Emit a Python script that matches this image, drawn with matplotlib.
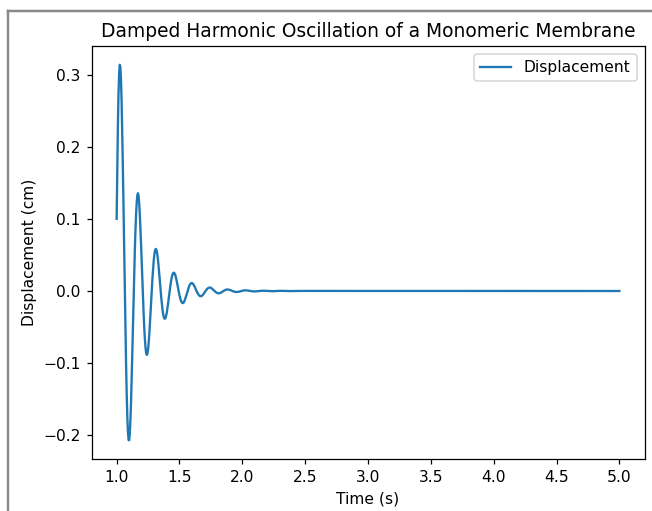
import numpy as np
import matplotlib
matplotlib.use("Agg")
import matplotlib.pyplot as plt
from matplotlib.lines import Line2D

# ---- data ----
time_s = [
    1.000, 1.005, 1.010, 1.015, 1.020, 1.025, 1.030, 1.035, 1.040, 1.045,
    1.050, 1.055, 1.060, 1.065, 1.070, 1.075, 1.080, 1.085, 1.090, 1.095,
    1.100, 1.105, 1.110, 1.115, 1.120, 1.125, 1.130, 1.135, 1.140, 1.145,
    1.150, 1.155, 1.160, 1.165, 1.170, 1.175, 1.180, 1.185, 1.190, 1.195,
    1.200, 1.205, 1.210, 1.215, 1.220, 1.225, 1.230, 1.235, 1.240, 1.245,
    1.250, 1.255, 1.260, 1.265, 1.270, 1.275, 1.280, 1.285, 1.290, 1.295,
    1.300, 1.305, 1.310, 1.315, 1.320, 1.325, 1.330, 1.335, 1.340, 1.345,
    1.350, 1.355, 1.360, 1.365, 1.370, 1.375, 1.380, 1.385, 1.390, 1.395,
    1.400, 1.405, 1.410, 1.415, 1.420, 1.425, 1.430, 1.435, 1.440, 1.445,
    1.450, 1.455, 1.460, 1.465, 1.470, 1.475, 1.480, 1.485, 1.490, 1.495,
    1.500, 1.505, 1.510, 1.515, 1.520, 1.525, 1.530, 1.535, 1.540, 1.545,
    1.550, 1.555, 1.560, 1.565, 1.570, 1.575, 1.580, 1.585, 1.590, 1.595,
    1.600,
    1.61, 1.62, 1.63, 1.64, 1.65, 1.66, 1.67, 1.68, 1.69, 1.70,
    1.71, 1.72, 1.73, 1.74, 1.75, 1.76, 1.77, 1.78, 1.79, 1.80,
    1.81, 1.82, 1.83, 1.84, 1.85, 1.86, 1.87, 1.88, 1.89, 1.90,
    1.91, 1.92, 1.93, 1.94, 1.95, 1.96, 1.97, 1.98, 1.99, 2.00,
    2.01, 2.02, 2.03, 2.04, 2.05, 2.06, 2.07, 2.08, 2.09, 2.10,
    2.11, 2.12, 2.13, 2.14, 2.15, 2.16, 2.17, 2.18, 2.19, 2.20,
    2.21, 2.22, 2.23, 2.24, 2.25, 2.26, 2.27, 2.28, 2.29, 2.30,
    2.31, 2.32, 2.33, 2.34, 2.35, 2.36, 2.37, 2.38, 2.39, 2.40,
    2.41, 2.42, 2.43, 2.44, 2.45, 2.46, 2.47, 2.48, 2.49, 2.50,
    5.00,
]

# displacement in units of 1e-4 cm
displacement_1e4cm = [
    999, 1700, 2290, 2740, 3020, 3135, 3100, 2910, 2590, 2165,
    1666, 1125, 561, 2, -530, -1010, -1420, -1740, -1955, -2065,
    -2068, -1970, -1780, -1515, -1195, -841, -471, -100, 255, 578,
    855, 1075, 1235, 1330, 1355, 1310, 1200, 1039, 844, 619,
    377, 131, -107, -326, -518, -674, -789, -860, -886, -868,
    -810, -716, -594, -450, -293, -130, 29, 178, 310, 419,
    503, 558, 583, 579, 547, 491, 415, 323, 222, 115,
    9, -92, -182, -259, -319, -360, -382, -384, -368, -335,
    -288, -230, -165, -95, -24, 43, 105, 158, 201, 231,
    249, 254, 247, 228, 199, 163, 121, 75, 29, -17,
    -59, -95, -126, -148, -162, -168, -165, -155, -137, -114,
    -87, -58, -27, 3, 31, 57, 78, 94, 105, 110,
    110,
    94, 63, 23, -16, -48, -68, -73, -64, -45, -19,
    7, 29, 43, 48, 44, 31, 15, -2, -18, -28,
    -32, -29, -22, -11, 0, 10, 18, 21, 20, 15,
    9, 1, -6, -11, -14, -13, -11, -6, -1, 3,
    7, 9, 9, 7, 5, 1, -2, -4, -6, -6,
    -5, -3, -1, 1, 3, 4, 4, 3, 2, 1,
    0, -2, -2, -3, -2, -2, -1, 0, 1, 2,
    2, 2, 1, 1, 0, -1, -1, -1, -1, -1,
    0, 0, 0, 1, 1, 1, 1, 0, 0, 0,
    0,
]

title = "Damped Harmonic Oscillation of a Monomeric Membrane"
x_label = "Time (s)"
y_label = "Displacement (cm)"
series_label = "Displacement"

# ---- figure ----
W, H = 652, 511
DPI = 111.5
fig = plt.figure(figsize=(W / DPI, H / DPI), dpi=DPI)
ax = fig.add_axes([91.5 / W, (H - 459) / H, 553 / W, 413 / H])

disp_cm = np.array(displacement_1e4cm) / 10000.0
ax.plot(time_s, disp_cm, color="#1f77b4", label=series_label)

ax.set_title(title)
ax.set_xlabel(x_label)
ax.set_ylabel(y_label)
ax.legend(loc="upper right")

# screenshot frame (top and left edges)
fig.add_artist(Line2D([7.5 / W, 7.5 / W], [0, 1 - 11.5 / H],
                      transform=fig.transFigure, color="#8a8a8a", lw=1.6))
fig.add_artist(Line2D([7.5 / W, 1], [1 - 11.5 / H, 1 - 11.5 / H],
                      transform=fig.transFigure, color="#8a8a8a", lw=1.6))

fig.savefig("out.png", dpi=DPI)
